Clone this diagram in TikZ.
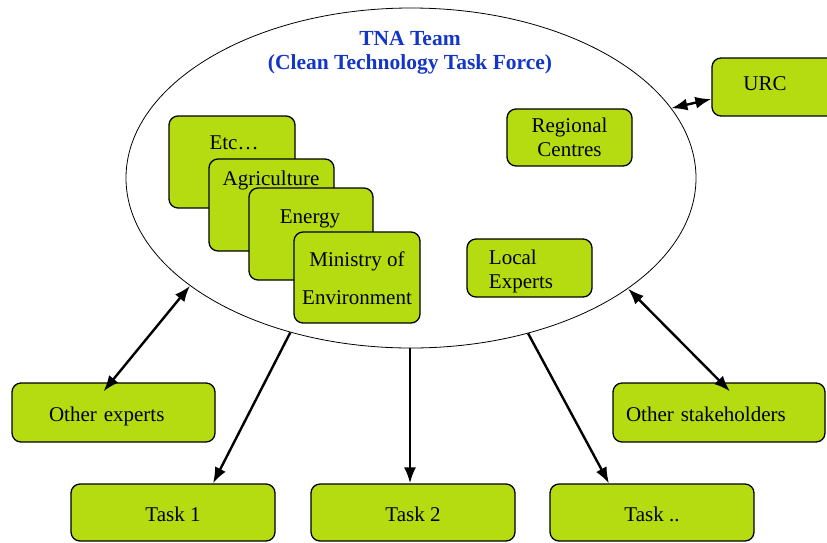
\documentclass[tikz,border=0pt]{standalone}
\usepackage{fontspec}
\setmainfont{Liberation Serif}
\usetikzlibrary{shapes.geometric,calc,arrows.meta}

\definecolor{cardgreen}{RGB}{181,220,16}
\definecolor{teamblue}{RGB}{20,54,200}

\tikzset{
  card/.style={draw=black, fill=cardgreen, rounded corners=9pt, line width=1.3pt, inner sep=0pt},
  onerow/.style={text height=18pt, text depth=0pt},
  link/.style={line width=2.4pt, -{Latex[length=16pt,width=12pt]}},
  twoway/.style={line width=2.4pt, {Latex[length=16pt,width=12pt]}-{Latex[length=16pt,width=12pt]}},
}

\begin{document}
\begin{tikzpicture}[x=1pt,y=-1pt,every node/.style={font=\fontsize{21}{24}\selectfont}]
\useasboundingbox (0,0) rectangle (827,542);

% the team
\node[ellipse, draw, line width=0.8pt, minimum width=570pt, minimum height=340pt, inner sep=0pt] (team) at (411,178) {};
\node[teamblue, font=\bfseries\fontsize{21.5}{24}\selectfont, align=center] (title) at (410,53) {TNA Team\\(Clean Technology Task Force)};

% stacked ministries
\node[card, minimum width=126pt, minimum height=92pt] (etc) at (232,162) {};
\node (etclbl) at (234,143) {Etc…};

\node[card, minimum width=125pt, minimum height=92pt] (agri) at (271.5,205) {};
\node (agrilbl) at (271,180) {Agriculture};

\node[card, minimum width=124pt, minimum height=92pt] (energy) at (311,234) {};
\node (energylbl) at (310,218.5) {Energy};

\node[card, minimum width=126pt, minimum height=91pt] (ministry) at (357,277.5) {};
\node[align=center] (ministrylbl) at (357,278) {Ministry of\\[14pt]Environment};

% inside the ellipse, right
\node[card, minimum width=125pt, minimum height=57pt, align=center] (regional) at (569.5,137.5) {Regional\\Centres};
\node[card, minimum width=125pt, minimum height=58pt] (local) at (529.5,268) {};
\node[align=left] (locallbl) at (521,271) {Local\\Experts};

% outside
\node[card, minimum width=130pt, minimum height=58pt] (urc) at (777,87) {};
\node (urclbl) at (765,84) {URC};

\node[card, onerow, minimum width=203pt, minimum height=59pt, text width=129pt, inner xsep=37pt, align=left] (oexp) at (113.5,412.5) {Other experts};
\node[card, onerow, minimum width=212pt, minimum height=59pt, text width=186pt, inner xsep=13pt, align=left] (ostake) at (719,412.5) {Other stakeholders};

\node[card, onerow, minimum width=204pt, minimum height=57pt] (task1) at (173,512.5) {Task 1};
\node[card, onerow, minimum width=204pt, minimum height=57pt] (task2) at (413,512.5) {Task 2};
\node[card, onerow, minimum width=204pt, minimum height=57pt] (taskn) at (652,512.5) {Task ..};

% arrows
\draw[twoway] (team.15.6) -- ([yshift=-12pt]urc.west);
\draw[twoway] (team.206.3) -- ([xshift=-10pt,yshift=-9pt]oexp.north);
\draw[twoway] (team.333.4) -- ([xshift=11pt,yshift=-9pt]ostake.north);

\draw[link] (team.232.4) -- ([xshift=40pt]task1.north);
\draw[link] ([xshift=-1pt]team.south) -- ([xshift=-3pt]task2.north);
\draw[link] (team.307.2) -- ([xshift=-43pt]taskn.north);

\end{tikzpicture}
\end{document}
